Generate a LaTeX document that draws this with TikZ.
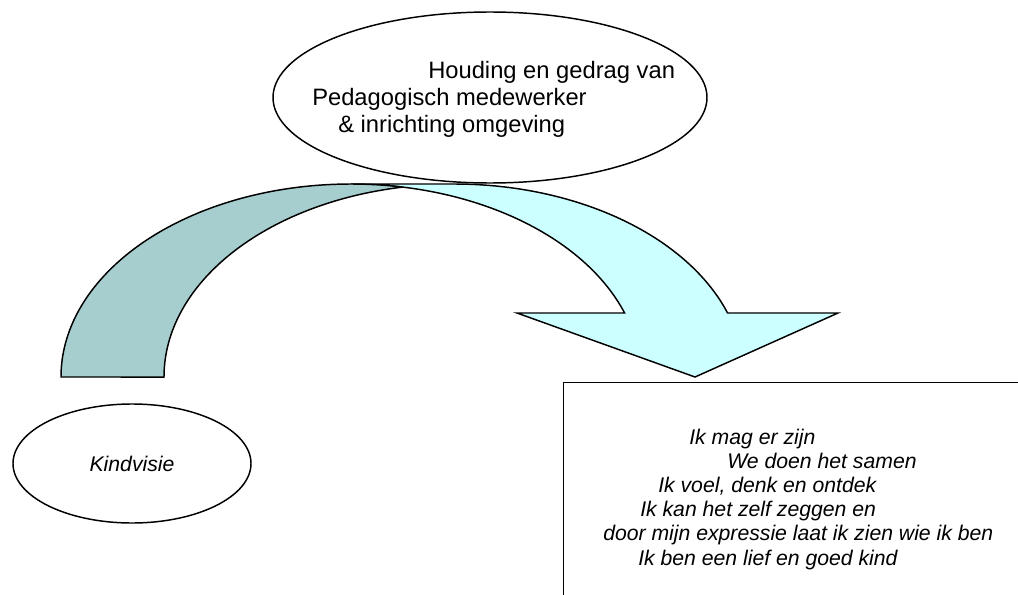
\documentclass[tikz,border=0pt]{standalone}
\usepackage{fontspec}
\setmainfont{Liberation Sans}
\usetikzlibrary{shapes.geometric}
\definecolor{pijllicht}{RGB}{204,255,255}
\definecolor{pijldonker}{RGB}{166,206,206}
\tikzstyle{ovaal} = [draw, ellipse, line width=1.1pt, inner sep=0pt]
\tikzstyle{kader} = [draw, rectangle, line width=1.1pt, inner sep=0pt,
  anchor=north west]
\tikzstyle{tekst} = [align=left, inner sep=0pt, anchor=north west]
\tikzstyle{groot} = [font=\fontsize{17.8}{20.25}\selectfont]
\tikzstyle{klein} = [font=\fontsize{15.9}{18.15}\selectfont\itshape]
\tikzstyle{pijl} = [draw, line width=1.1pt, line join=miter]

\begin{document}
\begin{tikzpicture}[x=0.75pt, y=0.75pt]
\useasboundingbox (0,0) rectangle (1018,594);
\clip (0,0) rectangle (1018,594);

% Draw the curved arrow (front band first, back band on top)
\path [pijl, fill=pijllicht] (695,217) -- (517,281) -- (624.6,281)
  arc[start angle=19.37, end angle=90, x radius=290, y radius=193]
  -- (454,410)
  arc[start angle=90, end angle=19.37, x radius=290, y radius=193]
  -- (838,281) -- cycle;
\path [pijl, fill=pijldonker] (402.5,406.9)
  arc[start angle=100.23, end angle=180, x radius=290, y radius=193]
  -- (61,217)
  arc[start angle=180, end angle=79.77, x radius=290, y radius=193]
  -- cycle;

% Draw diagram elements
\node (houding) [ovaal, minimum width=325.5pt, minimum height=128.25pt]
  at (490,496.5) {};
\node (kindvisie) [ovaal, klein, minimum width=178.5pt,
  minimum height=89.25pt] at (132,130.5) {Kindvisie};
\node (kader) [kader, minimum width=360pt, minimum height=180pt]
  at (563,212) {};

% Texts
\path (houding.center) +(-178,36.8) node (houdingtekst) [tekst, groot]
  {\hspace*{87pt}Houding en gedrag van\\
   Pedagogisch medewerker\\
   \hspace*{19.5pt}\& inrichting omgeving};
\path (kader.north west) +(40,-46.5) node (kadertekst) [tekst, klein]
  {\hspace*{64.5pt}Ik mag er zijn\\
   \hspace*{93pt}We doen het samen\\
   \hspace*{41.25pt}Ik voel, denk en ontdek\\
   \hspace*{27.75pt}Ik kan het zelf zeggen en\\
   door mijn expressie laat ik zien wie ik ben\\
   \hspace*{26.25pt}Ik ben een lief en goed kind};
\end{tikzpicture}
\end{document}
